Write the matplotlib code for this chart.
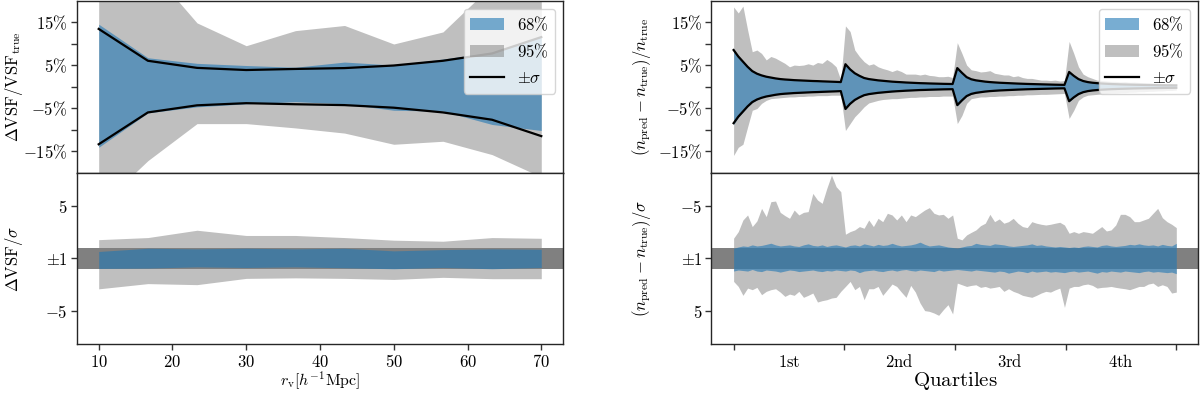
import matplotlib
matplotlib.use("Agg")
import matplotlib.pyplot as plt
import numpy as np

plt.rcParams["mathtext.fontset"] = "cm"
plt.rcParams["font.size"] = 12

# --------------------- LEFT: VSF vs radius ---------------------
r_v = [10, 16.67, 23.33, 30, 36.67, 43.33, 50, 56.67, 63.33, 70]

vsf_sigma = [13.4, 6.0, 4.35, 3.85, 4.1, 4.3, 4.9, 6.0, 7.7, 11.5]
vsf_68_hi = [14.5, 6.7, 5.4, 4.9, 4.5, 5.7, 5.0, 6.4, 8.0, 11.8]
vsf_68_lo = [-14.1, -6.1, -4.7, -4.0, -3.5, -4.0, -5.5, -5.7, -8.8, -10.2]
vsf_95_hi = [30, 28, 14.8, 9.5, 13.0, 14.2, 9.9, 12.7, 23.6, 25]
vsf_95_lo = [-28, -17.2, -8.6, -8.6, -9.6, -10.8, -13.4, -12.7, -15.8, -21]

vsf_s68_hi = [0.67, 0.98, 0.92, 0.98, 0.92, 0.98, 0.73, 0.85, 0.92, 0.88]
vsf_s68_lo = [-0.95, -0.92, -0.8, -0.86, -0.8, -0.89, -0.98, -0.86, -0.98, -0.86]
vsf_s95_hi = [1.8, 2.0, 2.7, 2.2, 2.2, 2.0, 1.75, 1.65, 2.0, 1.93]
vsf_s95_lo = [-2.9, -2.4, -2.5, -1.9, -1.85, -1.9, -2.0, -1.8, -1.93, -1.93]

# --------------------- RIGHT: n(r) in quartiles (24 bins each) ---------------------
n_sigma = [
    8.5, 7.0, 5.8, 4.6, 3.6, 3.0, 2.6, 2.3, 2.1, 1.9, 1.75, 1.65, 1.58, 1.5, 1.45, 1.4, 1.35, 1.3, 1.27, 1.22, 1.18, 1.14, 1.1, 1.05,
    5.2, 4.0, 3.1, 2.5, 2.0, 1.75, 1.6, 1.45, 1.35, 1.25, 1.15, 1.08, 1.02, 0.95, 0.9, 0.85, 0.8, 0.77, 0.73, 0.7, 0.67, 0.64, 0.62, 0.6,
    4.3, 3.2, 2.2, 1.7, 1.45, 1.3, 1.15, 1.05, 0.97, 0.9, 0.85, 0.8, 0.75, 0.7, 0.66, 0.62, 0.59, 0.56, 0.53, 0.5, 0.47, 0.44, 0.42, 0.4,
    3.4, 2.5, 1.75, 1.3, 1.05, 0.9, 0.8, 0.72, 0.66, 0.6, 0.56, 0.52, 0.49, 0.46, 0.43, 0.41, 0.39, 0.37, 0.35, 0.33, 0.31, 0.3, 0.29, 0.28,
]
n_68_hi = [
    8.7, 7.2, 6.0, 4.8, 3.8, 3.2, 2.7, 2.4, 2.2, 2.0, 1.85, 1.75, 1.65, 1.6, 1.55, 1.45, 1.45, 1.4, 1.3, 1.3, 1.25, 1.2, 1.15, 1.1,
    5.4, 4.1, 3.2, 2.6, 2.1, 1.85, 1.7, 1.55, 1.45, 1.35, 1.25, 1.15, 1.1, 1.0, 0.95, 0.9, 0.85, 0.82, 0.78, 0.75, 0.72, 0.7, 0.66, 0.62,
    4.5, 3.3, 2.3, 1.8, 1.55, 1.35, 1.2, 1.1, 1.0, 0.95, 0.9, 0.85, 0.8, 0.75, 0.7, 0.66, 0.63, 0.6, 0.56, 0.53, 0.5, 0.47, 0.45, 0.42,
    3.6, 2.6, 1.85, 1.4, 1.1, 0.95, 0.85, 0.76, 0.7, 0.64, 0.6, 0.56, 0.52, 0.5, 0.46, 0.44, 0.42, 0.4, 0.38, 0.36, 0.34, 0.32, 0.31, 0.3,
]
n_68_lo = [
    -8.8, -7.1, -5.9, -4.7, -3.7, -3.1, -2.6, -2.3, -2.1, -1.9, -1.8, -1.7, -1.6, -1.5, -1.45, -1.4, -1.35, -1.3, -1.25, -1.2, -1.15, -1.1, -1.05, -1.0,
    -5.3, -4.0, -3.1, -2.5, -2.05, -1.8, -1.6, -1.5, -1.4, -1.3, -1.2, -1.1, -1.05, -1.0, -0.95, -0.9, -0.85, -0.8, -0.76, -0.72, -0.7, -0.67, -0.64, -0.6,
    -4.5, -3.3, -2.3, -1.75, -1.5, -1.3, -1.2, -1.1, -1.0, -0.92, -0.87, -0.82, -0.77, -0.72, -0.68, -0.64, -0.6, -0.57, -0.54, -0.51, -0.48, -0.45, -0.43, -0.41,
    -3.5, -2.55, -1.8, -1.35, -1.08, -0.92, -0.82, -0.74, -0.68, -0.62, -0.58, -0.54, -0.5, -0.47, -0.44, -0.42, -0.4, -0.38, -0.36, -0.34, -0.32, -0.31, -0.3, -0.29,
]
n_95_hi = [
    18.5, 17.1, 18.7, 13.2, 8.1, 8.5, 7.7, 6.2, 7.0, 6.6, 6.0, 5.4, 4.6, 5.0, 4.9, 5.0, 5.3, 5.0, 5.6, 5.4, 6.3, 5.6, 4.6, 1.5,
    14.1, 12.8, 8.5, 7.0, 5.8, 5.0, 5.3, 4.6, 4.2, 3.9, 3.5, 3.9, 3.5, 2.9, 2.9, 2.9, 2.7, 2.9, 2.6, 2.5, 2.3, 2.3, 2.4, 2.1,
    10.2, 7.7, 5.0, 3.9, 3.7, 3.4, 3.5, 3.7, 3.1, 2.9, 2.7, 2.7, 2.3, 2.5, 2.1, 1.9, 1.9, 1.7, 1.5, 1.5, 1.4, 1.5, 1.3, 1.4,
    10.5, 7.7, 4.6, 2.9, 2.3, 1.9, 1.5, 1.4, 1.3, 1.2, 1.2, 1.1, 1.15, 1.0, 1.05, 0.95, 0.9, 0.85, 0.8, 0.75, 0.7, 0.65, 0.6, 0.55,
]
n_95_lo = [
    -16.0, -14.1, -13.4, -9.4, -5.5, -5.1, -3.9, -3.2, -2.8, -2.7, -2.6, -2.5, -2.4, -2.4, -2.3, -2.3, -2.2, -2.2, -2.1, -2.1, -2.1, -2.0, -2.0, -2.0,
    -10.2, -8.6, -7.0, -5.9, -4.7, -3.8, -3.5, -3.2, -3.0, -2.9, -2.8, -2.8, -2.7, -2.6, -2.5, -2.5, -2.4, -2.4, -2.3, -2.3, -2.3, -2.2, -2.2, -2.2,
    -8.6, -6.7, -3.9, -2.8, -2.6, -2.4, -2.4, -2.3, -2.3, -2.2, -2.2, -2.1, -2.1, -2.0, -2.0, -1.9, -1.9, -1.85, -1.8, -1.8, -1.75, -1.7, -1.65, -1.6,
    -7.4, -5.5, -3.2, -2.4, -2.0, -1.9, -1.8, -1.7, -1.6, -1.5, -1.5, -1.4, -1.4, -1.3, -1.3, -1.2, -1.2, -1.1, -1.1, -1.0, -1.0, -0.9, -0.9, -0.8,
]

n_s68_hi = [
    1.2, 1.1, 1.15, 1.2, 1.05, 1.2, 1.25, 1.1, 1.15, 1.2, 1.3, 1.2, 1.1, 1.15, 1.25, 1.2, 1.15, 1.1, 1.2, 1.25, 1.15, 1.2, 1.1, 1.15,
    1.2, 1.1, 1.15, 1.35, 1.2, 1.15, 1.1, 1.2, 1.25, 1.15, 1.1, 1.2, 1.1, 1.05, 1.15, 1.2, 1.1, 1.15, 1.2, 1.25, 1.1, 1.2, 1.15, 1.1,
    1.05, 1.1, 1.15, 1.2, 1.1, 1.15, 1.2, 1.25, 1.3, 1.2, 1.25, 1.4, 1.3, 1.2, 1.25, 1.35, 1.2, 1.3, 1.25, 1.2, 1.3, 1.25, 1.3, 1.35,
    1.25, 1.2, 1.3, 1.25, 1.2, 1.3, 1.4, 1.25, 1.3, 1.2, 1.25, 1.3, 1.2, 1.25, 1.3, 1.35, 1.25, 1.2, 1.3, 1.25, 1.3, 1.35, 1.3, 1.45,
]
n_s68_lo = [
    -0.98, -1.1, -1.2, -1.15, -1.3, -1.2, -1.25, -1.35, -1.46, -1.3, -1.2, -1.25, -1.3, -1.2, -1.15, -1.3, -1.4, -1.25, -1.2, -1.3, -1.15, -1.25, -1.3, -1.2,
    -1.1, -1.25, -1.3, -1.2, -1.4, -1.3, -1.2, -1.35, -1.25, -1.3, -1.45, -1.3, -1.2, -1.25, -1.3, -1.4, -1.56, -1.35, -1.2, -1.25, -1.3, -1.2, -1.1, -1.05,
    -1.0, -1.1, -1.2, -1.25, -1.45, -1.35, -1.3, -1.25, -1.4, -1.35, -1.3, -1.2, -1.15, -1.2, -1.25, -1.3, -1.4, -1.25, -1.3, -1.2, -1.15, -1.1, -1.15, -1.1,
    -1.05, -1.1, -1.05, -1.15, -1.2, -1.15, -1.1, -1.25, -1.3, -1.2, -1.15, -1.2, -1.25, -1.35, -1.3, -1.4, -1.3, -1.25, -1.3, -1.2, -1.35, -1.25, -1.2, -1.45,
]
n_s95_hi = [
    2.19, 2.67, 3.52, 2.83, 2.98, 2.76, 3.46, 3.14, 2.98, 2.89, 3.21, 3.62, 3.4, 3.52, 3.14, 3.71, 3.52, 3.3, 4.16, 4.03, 3.94, 3.78, 3.71, 3.14,
    2.67, 2.19, 2.98, 2.67, 3.94, 2.89, 2.89, 2.67, 3.52, 2.98, 2.44, 2.67, 3.21, 3.71, 2.57, 3.21, 4.25, 4.98, 5.05, 5.21, 5.43, 4.89, 4.41, 5.3,
    2.35, 2.51, 2.67, 2.57, 2.51, 2.76, 2.67, 2.83, 2.76, 2.67, 3.14, 2.89, 3.14, 3.3, 3.52, 3.62, 3.71, 3.52, 3.3, 3.14, 3.21, 3.0, 2.83, 4.67,
    2.83, 2.67, 2.67, 2.51, 2.44, 2.57, 2.83, 2.76, 2.73, 2.67, 2.76, 2.83, 2.89, 2.98, 2.83, 2.67, 2.67, 2.44, 2.35, 2.67, 2.51, 2.67, 3.3, 3.21,
]
n_s95_lo = [
    -1.94, -2.57, -3.68, -4.16, -3.05, -3.59, -4.79, -4.0, -5.43, -5.49, -4.41, -4.1, -3.84, -4.63, -4.16, -4.41, -4.48, -6.22, -5.59, -5.27, -6.7, -7.97, -6.86, -6.38,
    -2.32, -2.57, -2.73, -3.05, -2.89, -3.68, -3.05, -3.84, -3.52, -4.32, -4.16, -3.68, -4.16, -3.52, -4.16, -4.0, -4.32, -4.63, -4.86, -4.32, -4.16, -4.22, -3.84, -4.16,
    -1.94, -1.78, -2.25, -2.5, -2.73, -3.14, -3.37, -4.22, -3.52, -3.78, -3.37, -3.52, -3.84, -3.37, -3.05, -2.95, -3.52, -3.37, -3.27, -3.2, -3.27, -3.37, -3.46, -3.2,
    -2.41, -2.57, -2.41, -2.57, -2.5, -2.41, -2.73, -3.05, -2.63, -2.73, -3.2, -4.22, -4.22, -4.0, -3.52, -3.52, -3.68, -3.84, -4.32, -4.79, -3.9, -3.52, -3.27, -2.95,
]

quartile_labels = ["1st", "2nd", "3rd", "4th"]

# --------------------- FIGURE ---------------------
fig = plt.figure(figsize=(12, 3.93), dpi=100)
ax_lt = fig.add_axes([0.0638, 0.5606, 0.4057, 0.4381])
ax_lb = fig.add_axes([0.0638, 0.1239, 0.4057, 0.4367], sharex=ax_lt)
ax_rt = fig.add_axes([0.5929, 0.5606, 0.4058, 0.4381])
ax_rb = fig.add_axes([0.5929, 0.1239, 0.4058, 0.4367], sharex=ax_rt)

blue = "C0"
x_n = np.arange(len(n_sigma))


def top_panel(ax, x, lo95, hi95, lo68, hi68, sig):
    h95 = ax.fill_between(x, lo95, hi95, color="gray", alpha=0.5, lw=0)
    h68 = ax.fill_between(x, lo68, hi68, color=blue, alpha=0.6, lw=0)
    hs, = ax.plot(x, sig, color="k", lw=1.6)
    ax.plot(x, -np.array(sig), color="k", lw=1.6)
    ax.set_ylim(-20, 20)
    ax.set_yticks([-15, -10, -5, 0, 5, 10, 15])
    ax.set_yticklabels([r"$-15\%$", "", r"$-5\%$", "", r"$5\%$", "", r"$15\%$"])
    ax.tick_params(axis="x", bottom=False, labelbottom=False)
    ax.legend([h68, h95, hs], [r"$68\%$", r"$95\%$", r"$\pm\sigma$"],
              loc="upper right", fontsize=12)


def bottom_panel(ax, x, lo95, hi95, lo68, hi68):
    ax.axhspan(-1, 1, color="gray", lw=0)
    ax.fill_between(x, lo95, hi95, color="gray", alpha=0.5, lw=0)
    ax.fill_between(x, lo68, hi68, color=blue, alpha=0.6, lw=0)
    ax.set_ylim(-8.2, 8.2)
    ax.set_yticks([-5, 0, 5])
    ax.set_yticklabels([r"$-5$", r"$\pm1$", r"$5$"])


top_panel(ax_lt, r_v, vsf_95_lo, vsf_95_hi, vsf_68_lo, vsf_68_hi, vsf_sigma)
bottom_panel(ax_lb, r_v, vsf_s95_lo, vsf_s95_hi, vsf_s68_lo, vsf_s68_hi)
top_panel(ax_rt, x_n, n_95_lo, n_95_hi, n_68_lo, n_68_hi, n_sigma)
bottom_panel(ax_rb, x_n, n_s95_lo, n_s95_hi, n_s68_lo, n_s68_hi)
ax_rb.invert_yaxis()

for ax in [ax_lt, ax_lb, ax_rt, ax_rb]:
    ax.tick_params(labelsize=12, length=4, width=1, color="0.2", pad=2.5)
    for sp in ax.spines.values():
        sp.set_linewidth(1.0)
        sp.set_color("0.15")

ax_lb.set_xticks([10, 20, 30, 40, 50, 60, 70])
ax_lb.set_xticklabels([r"$%d$" % v for v in [10, 20, 30, 40, 50, 60, 70]])
ax_lb.set_xlabel(r"$r_{\rm v}[h^{-1}{\rm Mpc}]$", fontsize=11.5, labelpad=-1)

bounds = np.linspace(x_n[0], x_n[-1], 5)
mids = (bounds[:-1] + bounds[1:]) / 2
ax_rb.set_xticks(bounds)
ax_rb.set_xticklabels([""] * 5)
ax_rb.set_xticks(mids, minor=True)
ax_rb.set_xticklabels([r"$\mathrm{%s}$" % q for q in quartile_labels], minor=True)
ax_rb.tick_params(axis="x", which="minor", length=0, pad=6.5)
ax_rb.set_xlabel(r"$\mathrm{Quartiles}$", fontsize=15, labelpad=-1)

ax_lt.set_ylabel(r"$\Delta\mathrm{VSF}/\mathrm{VSF}_{\rm true}$", fontsize=12)
ax_lb.set_ylabel(r"$\Delta\mathrm{VSF}/\sigma$", fontsize=12)
ax_rt.set_ylabel(r"$(n_{\rm pred}-n_{\rm true})/n_{\rm true}$", fontsize=12)
ax_rb.set_ylabel(r"$(n_{\rm pred}-n_{\rm true})/\sigma$", fontsize=12)

for ax in [ax_lt, ax_lb]:
    ax.yaxis.set_label_coords(-0.105, 0.5)
for ax in [ax_rt, ax_rb]:
    ax.yaxis.set_label_coords(-0.12, 0.5)

fig.savefig("out.png", dpi=100)
